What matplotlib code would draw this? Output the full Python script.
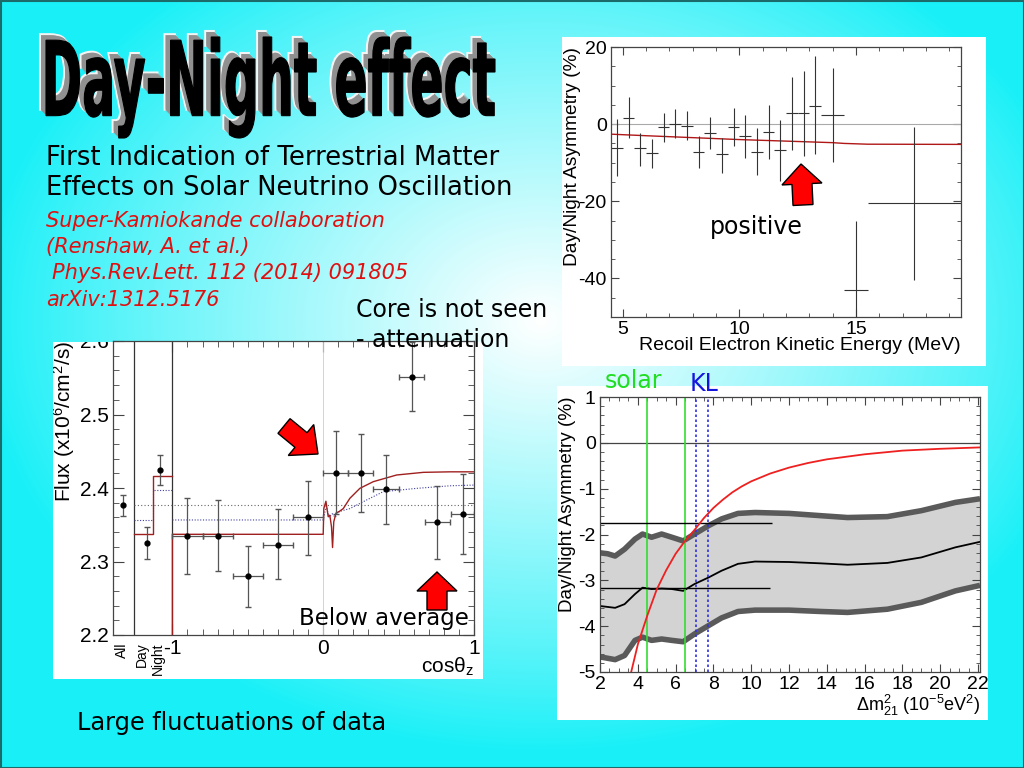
import numpy as np
import matplotlib
matplotlib.use("Agg")
import matplotlib.pyplot as plt
from matplotlib.patches import Rectangle, PathPatch, FancyArrow
from matplotlib.textpath import TextPath
from matplotlib.font_manager import FontProperties
from matplotlib.transforms import Affine2D, blended_transform_factory
from matplotlib.ticker import MultipleLocator

W, H = 1024, 768

# ---- top right: day/night asymmetry vs recoil electron energy
energy = [4.75, 5.25, 5.75, 6.25, 6.75, 7.25, 7.75, 8.25, 8.75, 9.25, 9.75,
          10.25, 10.75, 11.25, 11.75, 12.25, 12.75, 13.25, 14.0, 15.0, 17.5]
energy_halfwidth = [0.25] * 18 + [0.5, 0.5, 2.0]
asym = [-6.1, 1.7, -6.3, -7.4, -0.7, 0.0, -0.4, -7.2, -2.2, -7.8, -0.7,
        -3.0, -7.1, -2.0, -6.8, 2.8, 2.8, 4.8, 2.4, -43.0, -20.4]
asym_hi = [1.3, 7.1, -2.2, -3.9, 2.9, 3.9, 3.3, -3.0, 1.9, -3.5, 4.2,
           2.4, -1.1, 5.0, 1.1, 12.3, 13.9, 17.6, 14.6, -25.0, -0.7]
asym_lo = [-13.5, -3.5, -10.9, -11.3, -4.6, -3.5, -4.2, -11.3, -6.5, -12.6, -5.7,
           -8.7, -13.3, -9.1, -14.8, -6.8, -8.3, -7.8, -9.8, -50.0, -40.3]
model_energy = [4.5, 6.0, 8.0, 10.0, 12.0, 14.0, 14.5, 15.5, 19.5]
model_asym = [-2.6, -3.0, -3.5, -4.0, -4.4, -4.8, -5.0, -5.2, -5.25]

# ---- bottom left: flux vs cos(zenith)
col_pos = [-1.327, -1.168, -1.084]            # All, Day, Night
col_names = ['All', 'Day', 'Night']
col_label_pos = [-1.334, -1.204, -1.098]
col_flux = [2.377, 2.3256, 2.4245]
col_hi = [2.391, 2.3465, 2.445]
col_lo = [2.362, 2.304, 2.404]
col_edges = [-1.254, -1.128, -1.0]

cosz = [-0.9, -0.7, -0.5, -0.3, -0.1, 0.082, 0.248, 0.416, 0.586, 0.756, 0.925]
cosz_halfwidth = [0.1, 0.1, 0.1, 0.1, 0.1, 0.082, 0.085, 0.085, 0.085, 0.083, 0.075]
flux = [2.335, 2.335, 2.280, 2.323, 2.360, 2.421, 2.421, 2.398, 2.551, 2.354, 2.364]
flux_hi = [2.386, 2.383, 2.321, 2.371, 2.410, 2.478, 2.474, 2.445, 2.598, 2.403, 2.419]
flux_lo = [2.2825, 2.287, 2.2385, 2.2757, 2.309, 2.365, 2.368, 2.351, 2.505, 2.304, 2.310]
flux_mean = 2.377

red_day, red_night = 2.337, 2.417
red_cos = [0.0, 0.004, 0.018, 0.033, 0.044, 0.055, 0.062, 0.07, 0.085, 0.106,
           0.133, 0.177, 0.243, 0.332, 0.487, 0.664, 0.841, 1.0]
red_flux = [2.337, 2.372, 2.382, 2.361, 2.363, 2.347, 2.319, 2.354, 2.366, 2.368,
            2.372, 2.386, 2.3995, 2.4086, 2.4177, 2.4213, 2.422, 2.422]
blue_day, blue_night = 2.3565, 2.397
blue_cos = [0.0, 0.02, 0.04, 0.06, 0.08, 0.106, 0.177, 0.288, 0.398, 0.619, 0.84, 1.0]
blue_flux = [2.357, 2.375, 2.36, 2.365, 2.36, 2.368, 2.372, 2.3837, 2.395, 2.3995, 2.403, 2.404]

# ---- bottom right: asymmetry vs dm2_21
dm2 = [2.0, 2.4, 2.8, 3.3, 3.85, 4.25, 4.73, 5.26, 5.8, 6.4, 7.0, 7.73, 8.43,
       9.3, 10.2, 12.0, 13.7, 15.1, 17.2, 19.0, 20.8, 22.1]
band_upper = [-2.40, -2.42, -2.47, -2.32, -2.10, -1.99, -2.06, -1.99, -2.06, -2.14, -1.99,
              -1.81, -1.66, -1.54, -1.52, -1.54, -1.59, -1.63, -1.61, -1.48, -1.30, -1.22]
band_mid = [-3.56, -3.58, -3.60, -3.52, -3.30, -3.16, -3.19, -3.18, -3.19, -3.23, -3.08,
            -2.94, -2.79, -2.64, -2.59, -2.60, -2.63, -2.66, -2.62, -2.50, -2.28, -2.16]
band_lower = [-4.67, -4.70, -4.73, -4.64, -4.31, -4.24, -4.31, -4.28, -4.31, -4.34, -4.17,
              -3.99, -3.82, -3.68, -3.65, -3.65, -3.68, -3.70, -3.63, -3.48, -3.23, -3.11]
theory_dm2 = [3.65, 4.0, 4.5, 5.0, 5.5, 6.0, 6.5, 7.0, 7.5, 8.0, 8.5, 9.0, 9.5, 10.0, 11.0,
              12.0, 13.0, 14.0, 16.0, 18.0, 20.0, 22.1]
theory_asym = [-5.0, -4.4, -3.77, -3.2, -2.78, -2.42, -2.14, -1.9, -1.64, -1.42, -1.24,
               -1.08, -0.95, -0.84, -0.67, -0.54, -0.44, -0.36, -0.25, -0.17, -0.13, -0.1]
solar_range = [4.5, 6.5]
kl_range = [7.1, 7.7]
ref_levels = [-1.75, -3.17]
ref_end = [11.1, 11.0]

plt.rcParams['font.family'] = ['Liberation Sans', 'DejaVu Sans']
plt.rcParams['mathtext.fontset'] = 'custom'
plt.rcParams['mathtext.rm'] = 'Liberation Sans'
plt.rcParams['mathtext.it'] = 'Liberation Sans:italic'
plt.rcParams['axes.unicode_minus'] = False


def px_rect(left, top, right, bottom):
    return [left / W, 1 - bottom / H, (right - left) / W, (bottom - top) / H]


def style_axes(ax, size):
    ax.set_facecolor('none')
    ax.tick_params(which='both', direction='in', top=True, right=True,
                   labelsize=size, color='#444444', pad=3)
    ax.tick_params(which='major', length=6)
    ax.tick_params(which='minor', length=3)
    for s in ax.spines.values():
        s.set_color('#444444')
        s.set_linewidth(0.9)


fig = plt.figure(figsize=(10.24, 7.68), dpi=100)

# background gradient + white panels
bg = fig.add_axes([0, 0, 1, 1], zorder=0)
bg.set_xlim(0, W)
bg.set_ylim(H, 0)
bg.axis('off')
yy, xx = np.mgrid[0:H:2, 0:W:2]
d = np.sqrt(((xx - 540) / 560.0) ** 2 + ((yy - 320) / 430.0) ** 2)
wgt = np.clip(1 - d, 0, 1) ** 0.9
cyan = np.array([0.1, 0.94, 0.97])
img = wgt[..., None] * 1.0 + (1 - wgt[..., None]) * cyan
bg.imshow(img, extent=[0, W, H, 0], aspect='auto', interpolation='bilinear')
panels = []
for (l, t, r, b) in [(562, 37, 986, 366), (53, 342, 483, 679), (557, 386, 988, 720)]:
    p = Rectangle((l, t), r - l, b - t, facecolor='white', edgecolor='none')
    bg.add_patch(p)
    panels.append(p)
bg.add_patch(Rectangle((0.5, 0.5), W - 1, H - 1, fill=False, edgecolor='#1d6a6a', lw=1.5))

# ---- top right plot
ax1 = fig.add_axes(px_rect(611, 47, 961, 317), zorder=2)
style_axes(ax1, 14)
e = np.array(energy)
a = np.array(asym)
ax1.axhline(0, color='#aaaaaa', lw=0.8)
ax1.plot(model_energy, model_asym, color='#b01818', lw=1.0)
ax1.errorbar(e, a, xerr=energy_halfwidth,
             yerr=[a - np.array(asym_lo), np.array(asym_hi) - a],
             fmt='none', ecolor='#333333', elinewidth=0.8, capsize=0)
ax1.set_xlim(4.5, 19.5)
ax1.set_ylim(-50, 20)
ax1.set_xticks([5, 10, 15])
ax1.set_yticks([20, 0, -20, -40])
ax1.xaxis.set_minor_locator(MultipleLocator(1))
ax1.yaxis.set_minor_locator(MultipleLocator(5))
ax1.set_xlabel('Recoil Electron Kinetic Energy (MeV)', fontsize=14, loc='right', labelpad=-1)
ax1.set_ylabel('Day/Night Asymmetry (%)', fontsize=13.8, loc='top', labelpad=-2)

# ---- bottom left plot
ax2 = fig.add_axes(px_rect(113, 341, 474, 635), zorder=2)
style_axes(ax2, 15)
ax2.tick_params(which='major', length=8)
ax2.tick_params(which='minor', length=4)
for xe in [col_edges[0], col_edges[2]]:
    ax2.axvline(xe, color='#333333', lw=0.9)
ax2.axvline(0, color='#cccccc', lw=0.6)
ax2.hlines(flux_mean, col_edges[0], 1.0, color='#666666', lw=0.8, linestyles=(0, (1, 2)))
ax2.plot([col_edges[0], col_edges[1], col_edges[1], col_edges[2]],
         [blue_day, blue_day, blue_night, blue_night], color='#4040a0', lw=0.8, ls=(0, (1, 1.5)))
ax2.plot([col_edges[2]] + [0.0] + blue_cos, [blue_day, blue_day] + blue_flux,
         color='#4040a0', lw=0.8, ls=(0, (1, 1.5)))
ax2.plot([col_edges[0], col_edges[1], col_edges[1], col_edges[2]],
         [red_day, red_day, red_night, red_night], color='#a02020', lw=1.0)
ax2.plot([col_edges[2], col_edges[2]] + red_cos, [2.2, red_day] + red_flux,
         color='#a02020', lw=1.0)
cp = np.array(col_flux)
ax2.errorbar(col_pos, cp, yerr=[cp - np.array(col_lo), np.array(col_hi) - cp],
             fmt='o', ms=3.5, color='black', ecolor='#555555', elinewidth=0.9, capsize=2.5)
fz = np.array(flux)
ax2.errorbar(cosz, fz, xerr=cosz_halfwidth, yerr=[fz - np.array(flux_lo), np.array(flux_hi) - fz],
             fmt='o', ms=3.5, color='black', ecolor='#555555', elinewidth=0.9, capsize=2.5)
ax2.set_xlim(-1.394, 1.0)
ax2.set_ylim(2.2, 2.6)
ax2.set_xticks([-1, 0, 1])
ax2.set_xticklabels(['-1', '0', '1'])
ax2.set_yticks([2.2, 2.3, 2.4, 2.5, 2.6])
ax2.set_xticks(np.arange(-0.9, 1.0, 0.1), minor=True)
ax2.yaxis.set_minor_locator(MultipleLocator(0.02))
ax2.set_ylabel('Flux (x10$^6$/cm$^2$/s)', fontsize=15, loc='top', labelpad=2)
ax2.set_xlabel('cos\u03b8$_\\mathrm{z}$', fontsize=15, loc='right', labelpad=-2)
ax2.yaxis.label.set_clip_path(panels[1])
for t in ax2.yaxis.get_major_ticks():
    t.label1.set_clip_path(panels[1])
bt = blended_transform_factory(ax2.transData, ax2.transAxes)
for xp, name in zip(col_label_pos, col_names):
    ax2.text(xp, -0.025, name, transform=bt, rotation=90, ha='center', va='top', fontsize=10)

# ---- bottom right plot
ax3 = fig.add_axes(px_rect(600, 397, 980, 672), zorder=2)
style_axes(ax3, 14)
ax3.fill_between(dm2, band_lower, band_upper, color='#d3d3d3', lw=0)
ax3.plot(dm2, band_upper, color='#5a5a5a', lw=4, solid_capstyle='butt')
ax3.plot(dm2, band_lower, color='#5a5a5a', lw=4, solid_capstyle='butt')
ax3.plot(dm2, band_mid, color='black', lw=1.3)
ax3.axhline(0, color='#444444', lw=0.9)
for xv in solar_range:
    ax3.axvline(xv, color='#33dd33', lw=1.2)
for xv in kl_range:
    ax3.axvline(xv, color='#3030e0', lw=1.2, ls=(0, (1.5, 1.5)))
ax3.hlines(ref_levels, 2.0, ref_end, color='black', lw=1.0)
ax3.plot(theory_dm2, theory_asym, color='#ee2020', lw=1.3)
ax3.set_xlim(2, 22.1)
ax3.set_ylim(-5, 1)
ax3.set_xticks(np.arange(2, 23, 2))
ax3.set_yticks([1, 0, -1, -2, -3, -4, -5])
ax3.xaxis.set_minor_locator(MultipleLocator(0.5))
ax3.yaxis.set_minor_locator(MultipleLocator(0.2))
ax3.set_ylabel('Day/Night Asymmetry (%)', fontsize=13.6, loc='top', labelpad=2)
ax3.set_xlabel('\u0394m$^2_{21}$ (10$^{-5}$eV$^2$)', fontsize=13, loc='right', labelpad=0)

# ---- foreground: title, text, arrows
fg = fig.add_axes([0, 0, 1, 1], zorder=5)
fg.set_xlim(0, W)
fg.set_ylim(H, 0)
fg.axis('off')
fg.patch.set_alpha(0)

tp = TextPath((0, 0), 'Day-Night effect', size=100,
              prop=FontProperties(family='DejaVu Sans', weight='bold'))
ext = tp.get_extents()
sx = (495 - 46) / ext.width
sy = (138 - 37) / ext.height


def title_copy(off):
    tr = Affine2D().translate(-ext.x0, -ext.y0).scale(sx, -sy).translate(46 + off, 138 + off)
    return tr.transform_path(tp)


fg.add_patch(PathPatch(title_copy(-6), facecolor='#b4b4b4', edgecolor='#f4f4f4', lw=1.5))
for k in [5, 4, 3, 2, 1]:
    fg.add_patch(PathPatch(title_copy(-k), facecolor='#909090', edgecolor='none'))
fg.add_patch(PathPatch(title_copy(0), facecolor='black', edgecolor='black', lw=0.8))

body = dict(family='DejaVu Sans', color='black', va='center', ha='left')
fg.text(46, 158, 'First Indication of Terrestrial Matter', fontsize=18.6, **body)
fg.text(46, 188, 'Effects on Solar Neutrino Oscillation', fontsize=18.6, **body)
red = dict(family='DejaVu Sans', color='#e01010', style='italic', va='center', ha='left', fontsize=15)
fg.text(46, 221, 'Super-Kamiokande collaboration', **red)
fg.text(46, 247, '(Renshaw, A. et al.)', **red)
fg.text(52, 273, 'Phys.Rev.Lett. 112 (2014) 091805', **red)
fg.text(46, 300, 'arXiv:1312.5176', **red)
fg.text(356, 310, 'Core is not seen', fontsize=17, **body)
fg.text(356, 340, '- attenuation', fontsize=17, **body)
fg.text(710, 227, 'positive', fontsize=17, **body)
fg.text(299, 619, 'Below average', fontsize=16.5, **body)
fg.text(77, 723, 'Large fluctuations of data', fontsize=17.3, **body)
fg.text(605, 381, 'solar', fontsize=17, family='DejaVu Sans', color='#22dd22', va='center')
fg.text(690, 384, 'KL', fontsize=17, family='DejaVu Sans', color='#1515dd', va='center')

arrow = dict(facecolor='#ff0000', edgecolor='black', lw=1.0, length_includes_head=True)
fg.add_patch(FancyArrow(803, 205, -2, -41, width=20, head_width=40, head_length=20, **arrow))
fg.add_patch(FancyArrow(437, 610, 0, -38, width=20, head_width=40, head_length=19, **arrow))
fg.add_patch(FancyArrow(284, 426, 34, 28, width=19, head_width=40, head_length=22, **arrow))

fig.savefig('out.png', dpi=100)
